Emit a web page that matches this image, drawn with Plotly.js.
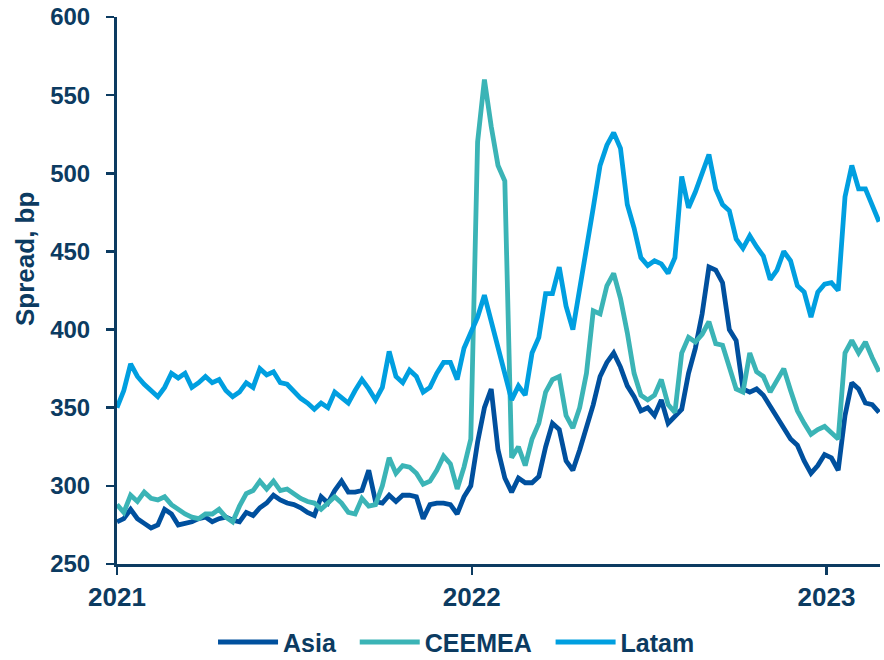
<!DOCTYPE html>
<html>
<head>
<meta charset="utf-8">
<script src="https://cdn.plot.ly/plotly-3.0.1.min.js"></script>
<style>
  html, body { margin: 0; padding: 0; background: #ffffff; }
  #chart { width: 884px; height: 660px; }
</style>
</head>
<body>
<div id="chart"></div>
<script>
// Weekly observation dates (Fridays)
const dates = [
  '2021-01-01','2021-01-08','2021-01-15','2021-01-22','2021-01-29',
  '2021-02-05','2021-02-12','2021-02-19','2021-02-26',
  '2021-03-05','2021-03-12','2021-03-19','2021-03-26',
  '2021-04-02','2021-04-09','2021-04-16','2021-04-23','2021-04-30',
  '2021-05-07','2021-05-14','2021-05-21','2021-05-28',
  '2021-06-04','2021-06-11','2021-06-18','2021-06-25',
  '2021-07-02','2021-07-09','2021-07-16','2021-07-23','2021-07-30',
  '2021-08-06','2021-08-13','2021-08-20','2021-08-27',
  '2021-09-03','2021-09-10','2021-09-17','2021-09-24',
  '2021-10-01','2021-10-08','2021-10-15','2021-10-22','2021-10-29',
  '2021-11-05','2021-11-12','2021-11-19','2021-11-26',
  '2021-12-03','2021-12-10','2021-12-17','2021-12-24','2021-12-31',
  '2022-01-07','2022-01-14','2022-01-21','2022-01-28',
  '2022-02-04','2022-02-11','2022-02-18','2022-02-25',
  '2022-03-04','2022-03-11','2022-03-18','2022-03-25',
  '2022-04-01','2022-04-08','2022-04-15','2022-04-22','2022-04-29',
  '2022-05-06','2022-05-13','2022-05-20','2022-05-27',
  '2022-06-03','2022-06-10','2022-06-17','2022-06-24',
  '2022-07-01','2022-07-08','2022-07-15','2022-07-22','2022-07-29',
  '2022-08-05','2022-08-12','2022-08-19','2022-08-26',
  '2022-09-02','2022-09-09','2022-09-16','2022-09-23','2022-09-30',
  '2022-10-07','2022-10-14','2022-10-21','2022-10-28',
  '2022-11-04','2022-11-11','2022-11-18','2022-11-25',
  '2022-12-02','2022-12-09','2022-12-16','2022-12-23','2022-12-30',
  '2023-01-06','2023-01-13','2023-01-20','2023-01-27',
  '2023-02-03','2023-02-10','2023-02-17','2023-02-24'
];

// Spread, bp
const asia = [
  277,279,285,279,276,273,275,285,282,275,276,277,279,280,277,279,280,278,277,283,
  281,286,289,294,291,289,288,286,283,281,293,289,297,303,296,296,297,310,290,289,
  294,290,294,294,293,279,288,289,289,288,282,293,300,328,350,362,323,305,296,305,
  302,302,306,325,340,336,316,310,323,338,352,370,379,385,376,364,357,348,350,345,
  355,340,345,349,372,388,410,440,438,430,400,393,362,360,362,358,351,344,338,330,
  326,316,308,313,320,318,310,345,366,362,353,352,347
];

const ceemea = [
  288,283,294,290,296,292,291,293,288,285,282,280,279,282,282,285,280,277,287,295,
  297,303,298,303,297,298,295,292,290,289,285,289,293,289,283,282,292,287,288,300,
  318,308,313,312,308,301,303,310,319,314,298,312,330,520,560,530,505,495,318,325,
  313,330,340,360,368,370,345,337,350,372,412,410,428,436,420,398,372,358,355,358,
  368,352,347,385,395,392,397,405,391,390,375,362,360,385,373,370,360,368,375,361,
  348,340,333,336,338,334,330,385,393,385,392,382,373
];

const latam = [
  350,361,378,370,365,361,357,363,372,369,372,363,366,370,366,368,361,357,360,366,
  363,375,371,373,366,365,360,356,353,349,353,350,360,356,353,361,368,362,355,363,
  386,370,366,374,370,360,363,372,379,379,368,388,398,408,422,405,388,372,355,364,
  358,385,395,423,423,440,415,400,425,453,478,505,518,526,516,480,465,446,441,444,
  442,436,446,498,478,488,500,512,490,480,476,458,452,460,453,447,432,438,450,444,
  428,424,408,424,429,430,425,485,505,490,490,480,469
];

const seriesNames = ['Asia', 'CEEMEA', 'Latam'];
const tickVals = ['2021-01-01', '2022-01-01', '2023-01-01'];
const tickText = ['2021', '2022', '2023'];
const yTitle = 'Spread, bp';

const navy = '#0C3B61';
const fontFam = 'Arial, "Liberation Sans", sans-serif';
const colors = ['#00509E', '#3BB4B6', '#009FE0'];
const values = [asia, ceemea, latam];
const legendPad = ['\u00a0\u00a0', '\u00a0\u00a0', ''];

const traces = values.map((v, k) => ({
  type: 'scatter',
  mode: 'lines',
  name: seriesNames[k] + legendPad[k],
  x: dates,
  y: v,
  line: { color: colors[k], width: 4.8 }
}));

const layout = {
  width: 884,
  height: 660,
  paper_bgcolor: '#ffffff',
  plot_bgcolor: '#ffffff',
  margin: { l: 117, r: 4, t: 17, b: 96, pad: 0, autoexpand: false },
  font: { family: fontFam, color: navy, size: 24, weight: 'bold' },
  showlegend: true,
  legend: {
    orientation: 'h',
    x: 0.445, xanchor: 'center',
    y: -0.101, yanchor: 'top',
    font: { family: fontFam, size: 25, color: navy, weight: 'bold' },
    itemwidth: 60,
    tracegroupgap: 0,
    borderwidth: 0,
    bgcolor: 'rgba(0,0,0,0)'
  },
  xaxis: {
    type: 'date',
    range: ['2021-01-01', '2023-02-25'],
    tickmode: 'array',
    tickvals: tickVals,
    ticktext: tickText,
    ticks: 'outside',
    ticklen: 8,
    tickwidth: 2.5,
    tickcolor: navy,
    ticklabelstandoff: 0,
    showline: true,
    linecolor: navy,
    linewidth: 3,
    showgrid: false,
    zeroline: false,
    automargin: false,
    tickfont: { family: fontFam, size: 26, color: navy, weight: 'bold' }
  },
  yaxis: {
    range: [250, 600],
    tickmode: 'linear',
    tick0: 250,
    dtick: 50,
    ticks: 'outside',
    ticklen: 8,
    tickwidth: 2.5,
    tickcolor: navy,
    ticklabelstandoff: 11,
    showline: true,
    linecolor: navy,
    linewidth: 3,
    showgrid: false,
    zeroline: false,
    automargin: false,
    tickfont: { family: fontFam, size: 24, color: navy, weight: 'bold' }
  },
  annotations: [{
    text: yTitle,
    xref: 'paper', yref: 'paper',
    x: -0.1206, y: 0.5576,
    xanchor: 'center', yanchor: 'middle',
    textangle: -90,
    showarrow: false,
    font: { family: fontFam, size: 26, color: navy, weight: 'bold' }
  }]
};

Plotly.newPlot('chart', traces, layout, { displayModeBar: false, staticPlot: true });
</script>
</body>
</html>
